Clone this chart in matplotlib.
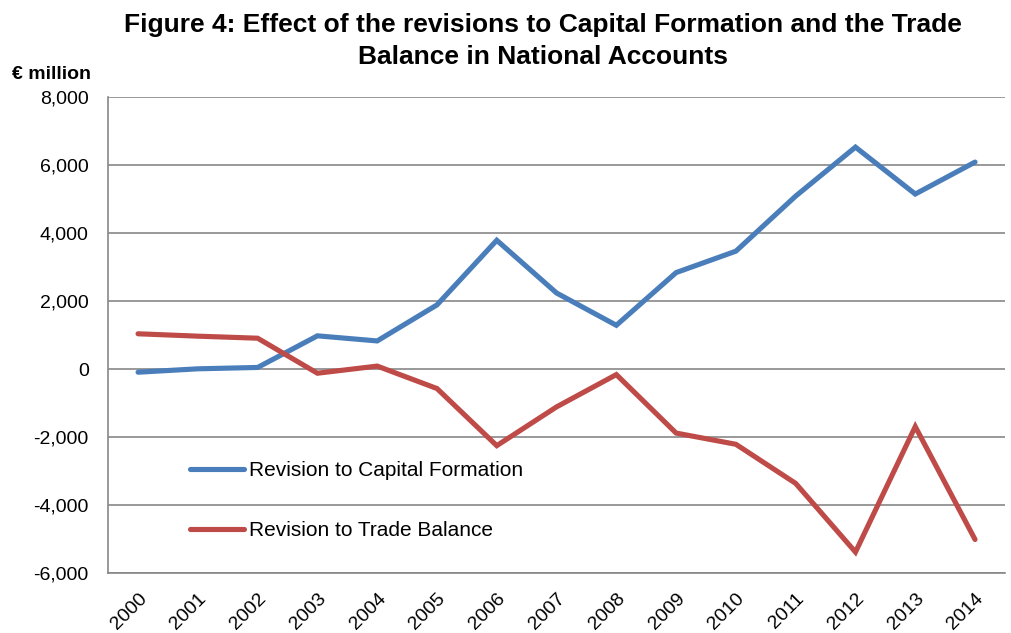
import numpy as np
import matplotlib
matplotlib.use("Agg")
import matplotlib.pyplot as plt
from matplotlib.ticker import FuncFormatter

plt.rcParams['font.family'] = ['Liberation Sans', 'DejaVu Sans']

years = [str(y) for y in range(2000, 2015)]
capital_formation = [-80, 20, 60, 990, 840, 1900, 3800, 2250, 1300, 2850, 3480, 5100, 6540, 5160, 6100]
trade_balance = [1050, 980, 920, -110, 100, -560, -2240, -1100, -150, -1870, -2200, -3350, -5370, -1680, -5000]

BLUE = '#4A7EBB'
RED = '#BE4B48'
GRID = '#878787'

fig = plt.figure(figsize=(10.11, 6.33), dpi=100)
ax = fig.add_axes([0.107, 0.094, 0.887, 0.752])

x = np.arange(len(years))
ax.plot(x, capital_formation, color=BLUE, linewidth=3.7, solid_capstyle='round',
        solid_joinstyle='miter', label='Revision to Capital Formation', zorder=3)
ax.plot(x, trade_balance, color=RED, linewidth=3.7, solid_capstyle='round',
        solid_joinstyle='miter', label='Revision to Trade Balance', zorder=3)

ax.set_xlim(-0.5, len(years) - 0.5)
ax.set_ylim(-6000, 8000)
ax.set_yticks(np.arange(-6000, 8001, 2000))
ax.yaxis.set_major_formatter(FuncFormatter(lambda v, p: f'{int(v):,}'))
ax.set_xticks(x)
ax.set_xticklabels(years, rotation=45, ha='right', rotation_mode='anchor')
ax.tick_params(axis='both', length=0, labelsize=14, colors='black')
ax.tick_params(axis='y', pad=14)
ax.tick_params(axis='x', pad=12)

ax.grid(axis='y', color=GRID, linewidth=1.2, zorder=0)
for s in ['top', 'right']:
    ax.spines[s].set_visible(False)
for s in ['left', 'bottom']:
    ax.spines[s].set_color(GRID)
    ax.spines[s].set_linewidth(1.2)

leg = ax.legend(loc='upper left', bbox_to_anchor=(0.07, 0.275), frameon=False,
                fontsize=15, handlelength=2.6, handletextpad=0.25, labelspacing=1.95)

fig.text(0.537, 0.98, 'Figure 4: Effect of the revisions to Capital Formation and the Trade\nBalance in National Accounts',
         ha='center', va='top', fontsize=19, fontweight='bold', linespacing=1.45)
fig.text(0.012, 0.882, '€ million', ha='left', va='center', fontsize=14, fontweight='bold')

fig.savefig('out.png', dpi=100, facecolor='white')
